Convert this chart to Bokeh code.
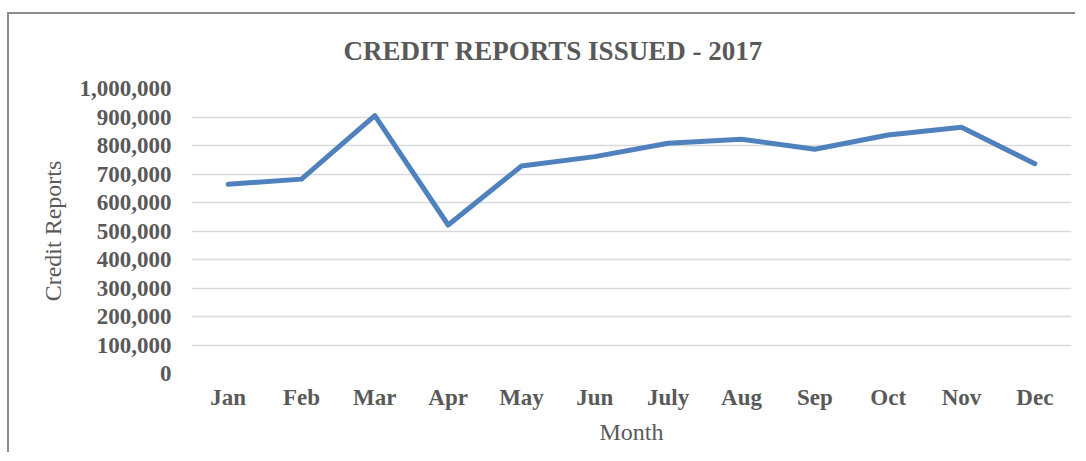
from bokeh.plotting import figure
from bokeh.models import Range1d, FixedTicker, NumeralTickFormatter
from bokeh.embed import file_html
from bokeh.resources import INLINE

months = ["Jan", "Feb", "Mar", "Apr", "May", "Jun", "July", "Aug", "Sep", "Oct", "Nov", "Dec"]
reports = [664000, 682000, 905000, 521000, 728000, 761000, 808000, 822000, 787000, 837000, 864000, 736000]
y_ticks = [0, 100000, 200000, 300000, 400000, 500000, 600000, 700000, 800000, 900000, 1000000]

TEXT = "#595959"
SERIF = "Liberation Serif"

p = figure(x_range=months, y_range=Range1d(0, 1000000),
           frame_width=880, frame_height=285,
           min_border_left=182, min_border_right=4, min_border_top=74, min_border_bottom=79,
           output_backend="svg", toolbar_location=None,
           styles={"margin-top": "12px", "margin-left": "7px",
                   "border-top": "2px solid #8c8c8c", "border-left": "2px solid #8c8c8c"})

p.line(months, reports, line_color="#4F81BD", line_width=5, line_join="round", line_cap="round")

p.title.text = "CREDIT REPORTS ISSUED - 2017"
p.title.align = "left"
p.title.vertical_align = "top"
p.title.offset = 152
p.title.standoff = 42
p.title.text_font = SERIF
p.title.text_font_style = "bold"
p.title.text_font_size = "27px"
p.title.text_color = TEXT

p.outline_line_color = None
p.xgrid.grid_line_color = None
p.ygrid.grid_line_color = "#D9D9D9"
p.ygrid.grid_line_width = 1.5

p.yaxis.ticker = FixedTicker(ticks=y_ticks)
p.yaxis.formatter = NumeralTickFormatter(format="0,0")
for ax in (p.xaxis[0], p.yaxis[0]):
    ax.axis_line_color = None
    ax.major_tick_line_color = None
    ax.minor_tick_line_color = None
    ax.major_tick_out = 0
    ax.major_tick_in = 0
    ax.major_label_text_font = SERIF
    ax.major_label_text_font_style = "bold"
    ax.major_label_text_font_size = "23px"
    ax.major_label_text_color = TEXT
    ax.axis_label_text_font = SERIF
    ax.axis_label_text_font_style = "normal"
    ax.axis_label_text_font_size = "24px"
    ax.axis_label_text_color = TEXT

p.yaxis.major_label_standoff = 20
p.xaxis.major_label_standoff = 11
p.xaxis.axis_label = "Month"
p.yaxis.axis_label = "Credit Reports"
p.xaxis.axis_label_standoff = 6
p.yaxis.axis_label_standoff = 11

open("out.html", "w").write(file_html(p, INLINE))
